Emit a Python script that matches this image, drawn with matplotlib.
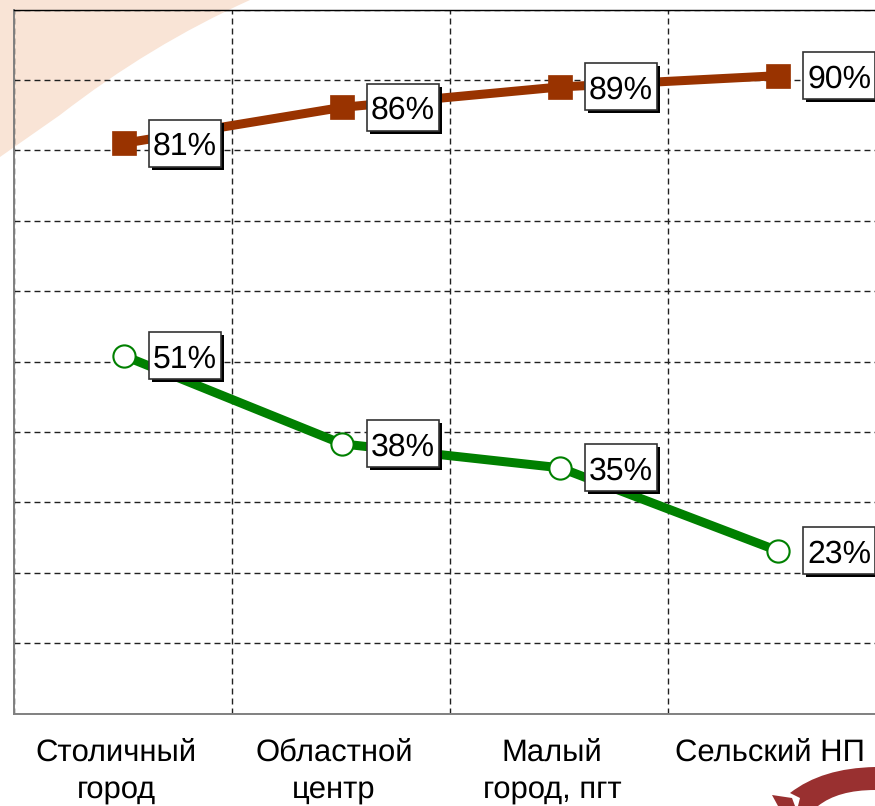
import matplotlib
matplotlib.use('Agg')
import matplotlib.pyplot as plt
from matplotlib.patches import PathPatch, Polygon
from matplotlib.path import Path

# DATA ##########################################

categories = ['Столичный\nгород', 'Областной\nцентр', 'Малый\nгород, пгт', 'Сельский НП']
series_top = [81, 86.1, 89, 90.6]
series_bottom = [50.8, 38.3, 34.9, 23.1]
labels_top = ['81%', '86%', '89%', '90%']
labels_bottom = ['51%', '38%', '35%', '23%']
y_ticks = [0, 10, 20, 30, 40, 50, 60, 70, 80, 90, 100]

# SETUP #########################################

plt.rcParams['font.family'] = ['Liberation Sans', 'DejaVu Sans']
plt.rcParams['text.hinting'] = 'no_hinting'
plt.rcParams['text.hinting_factor'] = 1

# FIGURE ########################################

W, H = 875, 806
fig = plt.figure(figsize=(W/100, H/100), dpi=100, facecolor='white')

def fx(x):
    return x/W

def fy(y):
    return 1 - y/H

def px_path(verts, codes):
    return Path([(fx(x), fy(y)) for x, y in verts], codes)

# background decoration, pixel coordinates
peach = px_path(
    [(0, 0), (250, 0), (150, 45), (60, 115), (0, 157), (0, 0)],
    [Path.MOVETO, Path.LINETO, Path.CURVE3, Path.CURVE3, Path.LINETO, Path.CLOSEPOLY],
)
fig.add_artist(PathPatch(peach, facecolor='#f9e4d6', edgecolor='none', transform=fig.transFigure, zorder=-5))

ax = fig.add_axes([fx(14), fy(713.5), (886-14)/W, (713.5-9.5)/H])
ax.patch.set_alpha(0)
ax.set_xlim(0, 4)
ax.set_ylim(0, 100)

# points sit a hair right of the column centre
xs = [i + 0.505 for i in range(len(categories))]

# GRIDS #########################################

ax.set_yticks(y_ticks)
ax.set_xticks([0, 1, 2, 3, 4])
ax.grid(which='major', color='#202020', linestyle=(0, (4.3, 2.9)), linewidth=1)
ax.tick_params(length=0, labelleft=False, labelbottom=False)
ax.set_axisbelow(True)
for name, spine in ax.spines.items():
    spine.set_color('#808080' if name in ('left', 'bottom') else 'black')
    spine.set_linewidth(1.4 if name in ('left', 'bottom') else 1)

# PLOTTING ######################################

ax.plot(xs, series_top, color='#993300', linewidth=6.5, marker='s', markersize=17.5,
        markerfacecolor='#993300', markeredgecolor='#993300', markeredgewidth=0.5, zorder=3)
ax.plot(xs, series_bottom, color='#008000', linewidth=6.5, marker='o', markersize=16,
        markerfacecolor='white', markeredgecolor='#008000', markeredgewidth=1.5, zorder=3)

# value labels: white box with a black drop shadow
def value_label(x, y, text):
    pos = ax.transData.transform((x, y))
    cx, cy = pos[0] + 61, pos[1]
    w, h = 72, 47
    ax.add_patch(Polygon(
        [(cx-w/2+3, cy-h/2-3), (cx+w/2+3, cy-h/2-3), (cx+w/2+3, cy+h/2-3), (cx-w/2+3, cy+h/2-3)],
        closed=True, transform=None, facecolor='black', edgecolor='none', zorder=4, clip_on=False))
    ax.add_patch(Polygon(
        [(cx-w/2, cy-h/2), (cx+w/2, cy-h/2), (cx+w/2, cy+h/2), (cx-w/2, cy+h/2)],
        closed=True, transform=None, facecolor='white', edgecolor='#333333', linewidth=1.2, zorder=5, clip_on=False))
    ax.text(cx, cy, text, transform=None, ha='center', va='center_baseline', fontsize=23.2,
            color='black', zorder=6)

for x, v, t in zip(xs, series_top, labels_top):
    value_label(x, v, t)
for x, v, t in zip(xs, series_bottom, labels_bottom):
    value_label(x, v, t)

# CATEGORY LABELS ###############################

for x, c in zip(xs, categories):
    px = ax.transData.transform((x, 0))[0] / W
    fig.text(px - 8/W, fy(738), c, ha='center', va='top', fontsize=22.5,
             linespacing=1.42, color='black')

# logo fragment in the lower right corner
logo_main = px_path(
    [(790, 793), (822, 768), (875, 767), (875, 790), (838, 790), (818, 806), (798, 806), (800, 798), (790, 793)],
    [Path.MOVETO, Path.CURVE3, Path.CURVE3, Path.LINETO, Path.CURVE3, Path.CURVE3, Path.LINETO, Path.LINETO, Path.CLOSEPOLY],
)
logo_small = px_path(
    [(772, 795), (792, 798), (795, 806), (778, 806), (772, 795)],
    [Path.MOVETO, Path.LINETO, Path.LINETO, Path.LINETO, Path.CLOSEPOLY],
)
fig.add_artist(PathPatch(logo_main, facecolor='#993030', edgecolor='none', transform=fig.transFigure))
fig.add_artist(PathPatch(logo_small, facecolor='#993030', edgecolor='none', transform=fig.transFigure))

# EXPORT ########################################

fig.savefig('out.png', dpi=100)
